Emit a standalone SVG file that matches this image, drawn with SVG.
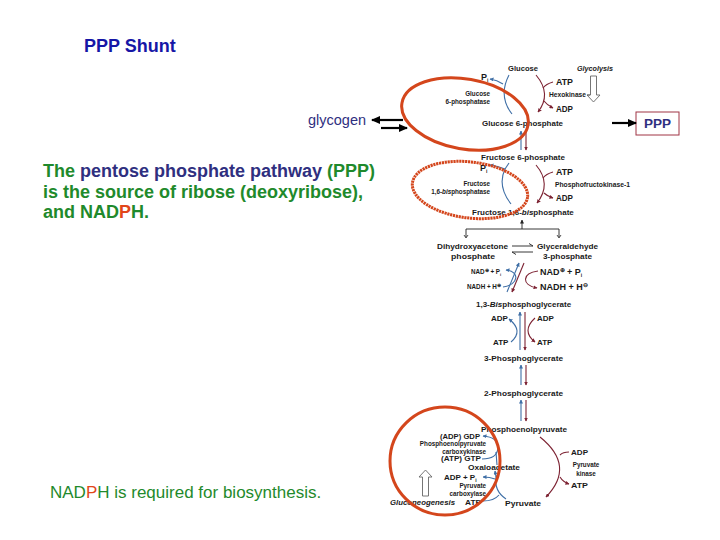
<svg xmlns="http://www.w3.org/2000/svg" width="720" height="540" viewBox="0 0 720 540">
<defs>
<style>
.t{font-family:"Liberation Sans",Arial,sans-serif}
.b{font-weight:bold}
.g{fill:#1f8a2c}
.n{fill:#2f2f7f}
.r{fill:#e2461a}
.m{font-family:"Liberation Sans",Arial,sans-serif;font-weight:bold;font-size:8px;fill:#1a1a1a}
.e{font-family:"Liberation Sans",Arial,sans-serif;font-weight:bold;font-size:6.3px;fill:#1a1a1a}
.c{font-family:"Liberation Sans",Arial,sans-serif;font-weight:bold;font-size:9px;fill:#1a1a1a}
.bl{fill:none;stroke:#3f6fa6;stroke-width:1.1}
.rd{fill:none;stroke:#7d2333;stroke-width:1.1}
.hol{fill:#fff;stroke:#666;stroke-width:0.9}
.ov{fill:none;stroke:#d4461c;stroke-width:3}
.blk{stroke:#000;stroke-width:2.2;fill:none}
</style>
<marker id="ah" markerWidth="9" markerHeight="8" refX="8" refY="4" orient="auto" markerUnits="userSpaceOnUse"><path d="M0,0 L9,4 L0,8 z" fill="#000"/></marker>
<marker id="ab" markerWidth="4" markerHeight="4" refX="3.5" refY="2" orient="auto" markerUnits="userSpaceOnUse"><path d="M0,0 L4,2 L0,4 z" fill="#3f6fa6"/></marker>
<marker id="ar" markerWidth="4" markerHeight="4" refX="3.5" refY="2" orient="auto" markerUnits="userSpaceOnUse"><path d="M0,0 L4,2 L0,4 z" fill="#7d2333"/></marker>
<marker id="ak" markerWidth="4" markerHeight="4" refX="3.5" refY="2" orient="auto" markerUnits="userSpaceOnUse"><path d="M0,0 L4,2 L0,4 z" fill="#222"/></marker>
</defs>
<rect width="720" height="540" fill="#fff"/>

<g id="title"><text class="t b" x="84" y="52" font-size="18" fill="#1616a6">PPP Shunt</text></g>

<g id="glycogen"><text class="t n" x="308" y="125" font-size="14.5">glycogen</text></g>

<g id="ppp"><rect x="636" y="112" width="43" height="23" fill="#fff" stroke="#a03545" stroke-width="1"/><text class="t b n" x="657.5" y="128" font-size="13.5" text-anchor="middle">PPP</text></g>

<g id="paragraph" class="t b" font-size="18">
<text x="43" y="177"><tspan class="g">The </tspan><tspan class="n">pentose phosphate pathway </tspan><tspan class="g">(PPP)</tspan></text>
<text x="43" y="198" class="g">is the source of ribose (deoxyribose),</text>
<text x="43" y="218"><tspan class="g">and NAD</tspan><tspan class="r">P</tspan><tspan class="g">H.</tspan></text>
</g>

<g id="nadph-note"><text class="t" x="50" y="498" font-size="17"><tspan class="g">NAD</tspan><tspan class="r">P</tspan><tspan class="g">H is required for biosynthesis.</tspan></text></g>

<g id="connectors">
<line class="blk" x1="403" y1="120" x2="372" y2="120" marker-end="url(#ah)"/>
<line class="blk" x1="381" y1="128" x2="407" y2="128" marker-end="url(#ah)"/>
<line class="blk" x1="612" y1="123" x2="636" y2="123" marker-end="url(#ah)"/>
</g>

<g id="pathway">
<text class="m" x="508" y="71" textLength="30" lengthAdjust="spacingAndGlyphs">Glucose</text>
<text class="m" x="577" y="71" font-style="italic" font-size="7.5" textLength="36" lengthAdjust="spacingAndGlyphs">Glycolysis</text>
<text class="c" x="481" y="80">P<tspan font-size="5" dy="2">i</tspan></text>
<text class="c" x="556" y="85" textLength="17" lengthAdjust="spacingAndGlyphs">ATP</text>
<text class="e" x="490" y="96" text-anchor="end">Glucose</text>
<text class="e" x="490" y="104" text-anchor="end">6-phosphatase</text>
<text class="e" x="549" y="97" font-weight="normal" textLength="37" lengthAdjust="spacingAndGlyphs">Hexokinase</text>
<text class="c" x="556" y="112" textLength="17" lengthAdjust="spacingAndGlyphs">ADP</text>
<text class="m" x="482" y="126" textLength="81" lengthAdjust="spacingAndGlyphs">Glucose 6-phosphate</text>

<text class="m" x="481" y="160" textLength="84" lengthAdjust="spacingAndGlyphs">Fructose 6-phosphate</text>
<text class="c" x="480" y="171">P<tspan font-size="5" dy="2">i</tspan></text>
<text class="c" x="556" y="175" textLength="17" lengthAdjust="spacingAndGlyphs">ATP</text>
<text class="e" x="490" y="186" text-anchor="end">Fructose</text>
<text class="e" x="490" y="194" text-anchor="end">1,6-<tspan font-style="italic">bis</tspan>phosphatase</text>
<text class="e" x="555" y="187" textLength="75" lengthAdjust="spacingAndGlyphs">Phosphofructokinase-1</text>
<text class="c" x="556" y="201" textLength="17" lengthAdjust="spacingAndGlyphs">ADP</text>
<text class="m" x="472" y="215" font-size="7.3">Fructose 1,6-<tspan font-style="italic">bis</tspan>phosphate</text>

<text class="m" x="437" y="249" textLength="71" lengthAdjust="spacingAndGlyphs">Dihydroxyacetone</text>
<text class="m" x="451" y="259" textLength="44" lengthAdjust="spacingAndGlyphs">phosphate</text>
<text class="m" x="537" y="249" textLength="61" lengthAdjust="spacingAndGlyphs">Glyceraldehyde</text>
<text class="m" x="543" y="259" textLength="49" lengthAdjust="spacingAndGlyphs">3-phosphate</text>

<text class="e" x="471" y="274" font-size="5.5">NAD<tspan font-size="5" dy="-2.5">⊕</tspan><tspan dy="2.5"> + P</tspan><tspan font-size="4" dy="1.5">i</tspan></text>
<text class="e" x="467" y="289" font-size="5.5">NADH + H<tspan font-size="5" dy="-2.5">⊕</tspan></text>
<text class="c" x="540" y="275" font-size="8.5">NAD<tspan font-size="6" dy="-3">⊕</tspan><tspan dy="3"> + P</tspan><tspan font-size="5" dy="2">i</tspan></text>
<text class="c" x="540" y="290" font-size="8.5">NADH + H<tspan font-size="6" dy="-3">⊖</tspan></text>

<text class="m" x="476" y="307">1,3-<tspan font-style="italic">Bis</tspan>phosphoglycerate</text>
<text class="m" x="491" y="321">ADP</text>
<text class="m" x="537" y="321">ADP</text>
<text class="m" x="493" y="345">ATP</text>
<text class="m" x="537" y="345">ATP</text>
<text class="m" x="484" y="361" textLength="79" lengthAdjust="spacingAndGlyphs">3-Phosphoglycerate</text>
<text class="m" x="484" y="396" textLength="79" lengthAdjust="spacingAndGlyphs">2-Phosphoglycerate</text>
<text class="m" x="481" y="432" textLength="86" lengthAdjust="spacingAndGlyphs">Phosphoenolpyruvate</text>

<text class="m" x="440" y="439" textLength="40" lengthAdjust="spacingAndGlyphs">(ADP) GDP</text>
<text class="e" x="486" y="446" text-anchor="end">Phosphoenolpyruvate</text>
<text class="e" x="486" y="454" text-anchor="end">carboxykinase</text>
<text class="m" x="441" y="461" textLength="40" lengthAdjust="spacingAndGlyphs">(ATP) GTP</text>
<text class="m" x="468" y="470" textLength="52" lengthAdjust="spacingAndGlyphs">Oxaloacetate</text>
<text class="m" x="444" y="480">ADP + P<tspan font-size="5" dy="2">i</tspan></text>
<text class="e" x="486" y="488" text-anchor="end">Pyruvate</text>
<text class="e" x="486" y="496" text-anchor="end">carboxylase</text>
<text class="m" x="390" y="505" font-style="italic" font-size="7" textLength="65" lengthAdjust="spacingAndGlyphs">Gluconeogenesis</text>
<text class="m" x="465" y="505" textLength="16" lengthAdjust="spacingAndGlyphs">ATP</text>
<text class="m" x="505" y="506" font-size="8.5" textLength="36" lengthAdjust="spacingAndGlyphs">Pyruvate</text>
<text class="m" x="571" y="455" font-size="8.5" textLength="17" lengthAdjust="spacingAndGlyphs">ADP</text>
<text class="e" x="586" y="467" text-anchor="middle">Pyruvate</text>
<text class="e" x="586" y="476" text-anchor="middle">kinase</text>
<text class="m" x="571" y="488" font-size="8.5" textLength="17" lengthAdjust="spacingAndGlyphs">ATP</text>

<path class="bl" d="M512 114 Q498 96 509 75"/>
<path class="bl" d="M503 84 Q497 80 490 79" marker-end="url(#ab)"/>
<path class="rd" d="M536 75 Q552 94 538 112" marker-end="url(#ar)"/>
<path class="rd" d="M553 82 Q546 84 543 88"/>
<path class="rd" d="M544 101 Q547 105 553 108" marker-end="url(#ar)"/>
<path class="hol" d="M590.5 76 V95 H587 L593.5 102 L600 95 H596.5 V76 Z"/>
<line x1="587" y1="95" x2="590" y2="95" stroke="#555" stroke-width="0.8"/>

<line class="bl" x1="521" y1="150" x2="521" y2="131" marker-end="url(#ab)"/>
<line class="rd" x1="526" y1="131" x2="526" y2="150" marker-end="url(#ar)"/>

<path class="bl" d="M511 204 Q497 186 505 169"/>
<path class="bl" d="M505 169 L509 163"/>
<path class="bl" d="M505 169 Q498 166 490 165" marker-end="url(#ab)"/>
<path class="rd" d="M536 165 Q552 184 537 203" marker-end="url(#ar)"/>
<path class="rd" d="M553 172 Q546 174 543 178"/>
<path class="rd" d="M544 193 Q547 196 553 198" marker-end="url(#ar)"/>

<line x1="522" y1="229" x2="522" y2="220" stroke="#222" stroke-width="0.9" marker-end="url(#ak)"/>
<polyline points="466,237 466,229 559,229 559,237" fill="none" stroke="#222" stroke-width="0.9"/>
<path d="M464 235 L466 238 L468 235" fill="none" stroke="#222" stroke-width="0.8"/>
<path d="M557 235 L559 238 L561 235" fill="none" stroke="#222" stroke-width="0.8"/>
<path d="M512 246 H533 L529 243.5" fill="none" stroke="#222" stroke-width="0.9"/>
<path d="M533 252 H512 L516 254.5" fill="none" stroke="#222" stroke-width="0.9"/>

<line class="bl" x1="507" y1="292" x2="519" y2="263" marker-end="url(#ab)"/>
<line class="rd" x1="524" y1="263" x2="512" y2="292" marker-end="url(#ar)"/>
<path class="bl" d="M503 287 C519 285 520 271 506 270" marker-end="url(#ab)"/>
<path class="rd" d="M538 271 C522 273 521 285 537 288" marker-end="url(#ar)"/>

<line class="bl" x1="520" y1="350" x2="520" y2="312" marker-end="url(#ab)"/>
<line class="rd" x1="525" y1="312" x2="525" y2="350" marker-end="url(#ar)"/>
<path class="bl" d="M511 342 Q524 331 509 319" marker-end="url(#ab)"/>
<path class="rd" d="M535 318 Q521 331 535 342" marker-end="url(#ar)"/>

<line class="bl" x1="521" y1="385" x2="521" y2="365" marker-end="url(#ab)"/>
<line class="rd" x1="526" y1="365" x2="526" y2="385" marker-end="url(#ar)"/>
<line class="bl" x1="521" y1="421" x2="521" y2="400" marker-end="url(#ab)"/>
<line class="rd" x1="526" y1="400" x2="526" y2="421" marker-end="url(#ar)"/>

<path class="rd" d="M540 437 Q576 466 546 497" marker-end="url(#ar)"/>
<path class="rd" d="M569 452 Q563 452 560 455"/>
<path class="rd" d="M560 477 Q563 482 569 484" marker-end="url(#ar)"/>

<path class="bl" d="M482 459 Q497 459 498 448 Q498 437 483 436" marker-end="url(#ab)"/>
<path class="bl" d="M497 465 L496 452"/>
<path class="bl" d="M506 499 Q494 491 496 477 L495 471" marker-end="url(#ab)"/>
<path class="bl" d="M496 477 L499 472"/>
<path class="bl" d="M495 479 Q490 477 483 477" marker-end="url(#ab)"/>
<path class="bl" d="M483 501 Q494 501 499 495"/>

<path class="hol" d="M422.5 496 V477 H419 L425.5 470 L432 477 H428.5 V496 Z"/>

<ellipse class="ov" cx="465" cy="114" rx="64" ry="35" transform="rotate(10 465 114)"/>
<ellipse class="ov" cx="470" cy="190" rx="58" ry="28" stroke-width="3.4" stroke-dasharray="2.2 0.7" transform="rotate(7 470 190)"/>
<ellipse class="ov" cx="445" cy="461" rx="55" ry="54" stroke-width="2.6"/>
</g>
</svg>
